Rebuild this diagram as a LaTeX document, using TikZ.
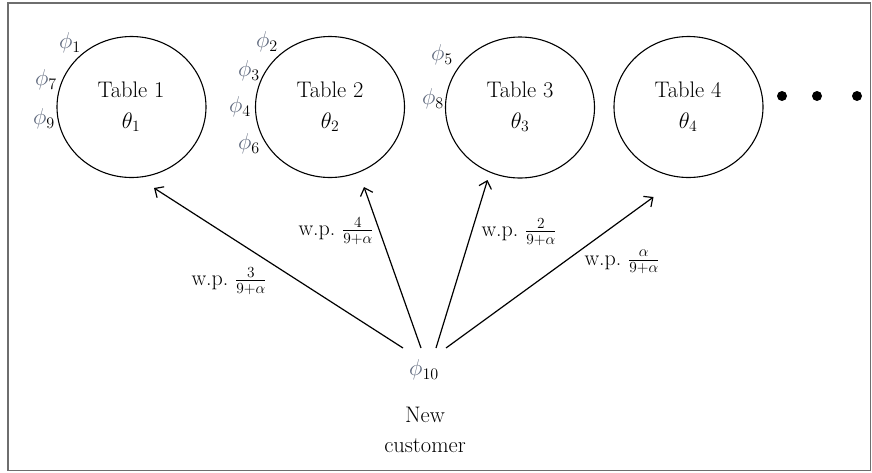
\documentclass[tikz,border=0pt]{standalone}
\usepackage{fix-cm}
\usepackage{fontspec}
\usetikzlibrary{shapes.geometric,arrows.meta}
\definecolor{phicol}{RGB}{95,105,125}
\definecolor{framecol}{RGB}{110,110,110}
\begin{document}
\begin{tikzpicture}[x=1pt,y=-1pt,
  tablebox/.style={draw,ellipse,minimum width=149pt,minimum height=141pt,inner sep=0pt,line width=1.1pt},
  ttext/.style={font=\fontsize{22.5}{27}\selectfont,align=center,inner sep=0pt},
  philab/.style={font=\fontsize{23}{27}\selectfont,text=phicol,inner sep=0pt},
  wp/.style={font=\fontsize{22}{26}\selectfont,inner sep=0pt},
  arr/.style={line width=1.2pt,-{Straight Barb[length=7pt,width=13pt]}},
  dotc/.style={circle,fill=black,minimum size=10pt,inner sep=0pt}]
\draw[framecol,line width=1.5pt] (8,3) rectangle (870.5,470.5);
\useasboundingbox (0,0) rectangle (872,472);
% tables
\node[tablebox] (t1) at (131.5,107) {};
\node[tablebox] (t2) at (330,107) {};
\node[tablebox] (t3) at (520,107.5) {};
\node[tablebox] (t4) at (688.5,107) {};
\node[ttext] (l1) at (131,90) {Table 1};
\node[ttext] (m1) at (131,122) {$\theta_1$};
\node[ttext] (l2) at (330,90) {Table 2};
\node[ttext] (m2) at (330,122) {$\theta_2$};
\node[ttext] (l3) at (520,90) {Table 3};
\node[ttext] (m3) at (520,122) {$\theta_3$};
\node[ttext] (l4) at (688,90) {Table 4};
\node[ttext] (m4) at (688,122) {$\theta_4$};
% dots
\node[dotc] (d1) at (782,96) {};
\node[dotc] (d2) at (817,96) {};
\node[dotc] (d3) at (857,96) {};
% customers
\node[philab] (p1) at (70,43) {$\phi_{\color{black}1}$};
\node[philab] (p7) at (46,80) {$\phi_{\color{black}7}$};
\node[philab] (p9) at (44,119) {$\phi_{\color{black}9}$};
\node[philab] (p2) at (267,42) {$\phi_{\color{black}2}$};
\node[philab] (p3) at (249,71) {$\phi_{\color{black}3}$};
\node[philab] (p4) at (240,107) {$\phi_{\color{black}4}$};
\node[philab] (p6) at (249,144) {$\phi_{\color{black}6}$};
\node[philab] (p5) at (442,55) {$\phi_{\color{black}5}$};
\node[philab] (p8) at (433,99) {$\phi_{\color{black}8}$};
\node[philab] (p10) at (424,370) {$\phi_{\color{black}10}$};
\node[ttext] (nc) at (425,430) {New\\[3pt]customer};
% arrows
\coordinate (s1) at (403,348);
\coordinate (s2) at (421,348);
\coordinate (s3) at (436,348);
\coordinate (s4) at (446,348);
\coordinate (e1) at (154,188);
\coordinate (e2) at (364,187);
\coordinate (e3) at (487.5,180);
\coordinate (e4) at (653.5,197);
\draw[arr] (s1) -- (e1);
\draw[arr] (s2) -- (e2);
\draw[arr] (s3) -- (e3);
\draw[arr] (s4) -- (e4);
% labels
\node[wp] (w1) at (229,281) {w.p.\ $\frac{3}{9+\alpha}$};
\node[wp] (w2) at (336,231) {w.p.\ $\frac{4}{9+\alpha}$};
\node[wp] (w3) at (519,232) {w.p.\ $\frac{2}{9+\alpha}$};
\node[wp] (w4) at (622,262) {w.p.\ $\frac{\alpha}{9+\alpha}$};
\end{tikzpicture}
\end{document}
